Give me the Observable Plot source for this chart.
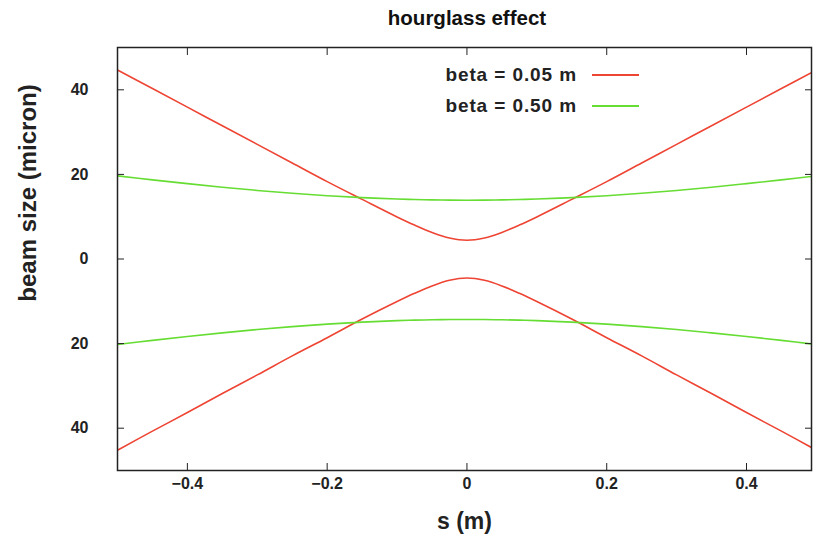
<!DOCTYPE html>
<html>
<head>
<meta charset="utf-8">
<script src="https://cdn.jsdelivr.net/npm/d3@7"></script>
<script src="https://cdn.jsdelivr.net/npm/@observablehq/plot@0.6"></script>
<style>
  html, body { margin: 0; padding: 0; background: #fff; }
  #wrap { position: relative; width: 813px; height: 543px; font-family: "Liberation Sans", Arial, sans-serif; }
  #title { position: absolute; left: 117px; width: 700px; top: 6px; text-align: center; font-weight: bold; font-size: 20.5px; color: #111; }
  #legend { position: absolute; left: 412px; top: 59px; font-weight: bold; font-size: 19px; color: #222; }
  .row { display: flex; align-items: center; height: 31px; }
  .row span { width: 165px; text-align: right; margin-right: 15px; letter-spacing: 0.9px; }
  .row i { display: inline-block; width: 47px; height: 2px; }
</style>
</head>
<body>
<div id="wrap">
  <div id="title"></div>
  <div id="legend"></div>
</div>
<script>
const titleText = "hourglass effect";
const xLabel = "s (m)";
const yLabel = "beam size (micron)";
const seriesNames = ["beta = 0.05 m", "beta = 0.50 m"];
const seriesColors = ["#ee4433", "#66dd33"];
const xTicks = [-0.4, -0.2, 0, 0.2, 0.4];
const yTicks = [40, 20, 0, -20, -40];

const s = [-0.5, -0.45, -0.4, -0.35, -0.3, -0.25, -0.2, -0.15, -0.1, -0.075, -0.05, -0.025, 0,
           0.025, 0.05, 0.075, 0.1, 0.15, 0.2, 0.25, 0.3, 0.35, 0.4, 0.45, 0.5];
const redUpper = [44.7, 40.3, 35.9, 31.5, 27.1, 22.7, 18.3, 14.1, 9.95, 8.02, 6.29, 4.98, 4.45,
                  4.98, 6.29, 8.02, 9.95, 14.1, 18.3, 22.7, 27.1, 31.5, 35.9, 40.3, 44.7];
const redLower = [-45.2, -40.7, -36.3, -31.8, -27.4, -22.9, -18.6, -14.2, -10.06, -8.11, -6.36, -5.03, -4.5,
                  -5.03, -6.36, -8.11, -10.06, -14.2, -18.6, -22.9, -27.4, -31.8, -36.3, -40.7, -45.2];
const greenUpper = [19.66, 18.70, 17.81, 16.97, 16.21, 15.54, 14.97, 14.51, 14.18, 14.06, 13.97, 13.92, 13.9,
                    13.92, 13.97, 14.06, 14.18, 14.51, 14.97, 15.54, 16.21, 16.97, 17.81, 18.70, 19.66];
const greenLower = [-20.22, -19.23, -18.32, -17.46, -16.67, -15.99, -15.40, -14.93, -14.58, -14.46, -14.37, -14.32, -14.3,
                    -14.32, -14.37, -14.46, -14.58, -14.93, -15.40, -15.99, -16.67, -17.46, -18.32, -19.23, -20.22];

const curves = [
  {name: seriesNames[0], part: "upper", vals: redUpper},
  {name: seriesNames[0], part: "lower", vals: redLower},
  {name: seriesNames[1], part: "upper", vals: greenUpper},
  {name: seriesNames[1], part: "lower", vals: greenLower}
];
const data = curves.flatMap(c => c.vals.map((v, i) => ({s: s[i], y: v, name: c.name, key: c.name + c.part})));

document.getElementById("title").textContent = titleText;
const leg = document.getElementById("legend");
seriesNames.forEach((n, i) => {
  const r = document.createElement("div"); r.className = "row";
  const t = document.createElement("span"); t.textContent = n;
  const l = document.createElement("i"); l.style.background = seriesColors[i];
  r.appendChild(t); r.appendChild(l); leg.appendChild(r);
});

const chart = Plot.plot({
  width: 813,
  height: 543,
  marginLeft: 117,
  marginRight: 2,
  marginTop: 47,
  marginBottom: 73,
  style: {fontFamily: "Liberation Sans, Arial, sans-serif", fontSize: "16px", fontWeight: "bold", color: "#222", background: "#fff"},
  x: {domain: [-0.5, 0.493]},
  y: {domain: [-50, 50]},
  color: {domain: seriesNames, range: seriesColors},
  marks: [
    Plot.lineY(data, {x: "s", y: "y", z: "key", stroke: "name", strokeWidth: 1.6, curve: "catmull-rom", clip: true}),
    Plot.axisX({ticks: xTicks, tickSize: -7, tickPadding: 14, tickFormat: d => d === 0 ? "0" : (d < 0 ? "\u2212" : "") + Math.abs(d), label: null, fontSize: 16}),
    Plot.axisX({anchor: "top", ticks: xTicks, tickSize: -7, tickFormat: () => "", label: null}),
    Plot.axisY({ticks: yTicks, tickSize: -7, tickPadding: 36, tickFormat: d => String(Math.abs(d)), label: null, fontSize: 16}),
    Plot.axisY({anchor: "right", ticks: yTicks, tickSize: -7, tickFormat: () => "", label: null}),
    Plot.frame({stroke: "#222", strokeWidth: 1.5}),
    Plot.text([xLabel], {text: d => d, frameAnchor: "bottom", dy: 58, fontSize: 23, fontWeight: "bold", fill: "#222"}),
    Plot.text([yLabel], {text: d => d, frameAnchor: "left", textAnchor: "middle", dx: -89, dy: -66, rotate: -90, fontSize: 24, fontWeight: "bold", fill: "#222"})
  ]
});
document.getElementById("wrap").prepend(chart);
chart.style.position = "absolute"; chart.style.left = "0"; chart.style.top = "0";
</script>
</body>
</html>
